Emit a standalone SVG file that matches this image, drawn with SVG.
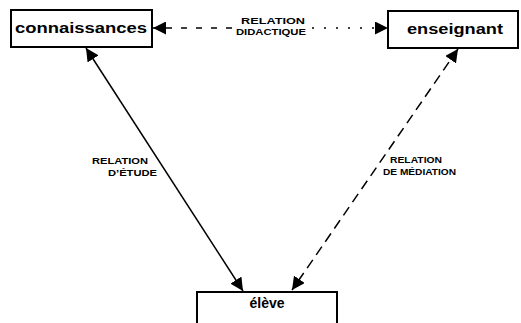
<svg xmlns="http://www.w3.org/2000/svg" width="521" height="323" viewBox="0 0 521 323">
<style>
.box{fill:#fff;stroke:#000;stroke-width:2}
.nt{font-family:"Liberation Sans",Arial,sans-serif;font-weight:bold;font-size:14px;fill:#000}
.lb{font-family:"Liberation Sans",Arial,sans-serif;font-weight:bold;font-size:9px;fill:#000}
.c{stroke:#000;stroke-width:1.5;fill:none}
</style>
<defs>
<marker id="ah" viewBox="0 0 10 10" refX="10" refY="5" markerWidth="13" markerHeight="13" markerUnits="userSpaceOnUse" orient="auto-start-reverse">
<path d="M0,0 L10,5 L0,10 z" fill="#000"/>
</marker>
</defs>
<rect width="521" height="323" fill="#fff"/>
<g id="connectors">
<line class="c" x1="232" y1="28" x2="153" y2="28" stroke-dasharray="6,9" marker-end="url(#ah)"/>
<line class="c" x1="312" y1="28" x2="388" y2="28" stroke-dasharray="2,10" marker-end="url(#ah)"/>
<line class="c" x1="86" y1="48" x2="243" y2="291" marker-start="url(#ah)" marker-end="url(#ah)"/>
<line class="c" x1="458" y1="49" x2="292" y2="290" stroke-dasharray="10,6" marker-start="url(#ah)" marker-end="url(#ah)"/>
</g>
<g id="labels">
<text class="lb" x="241" y="24" textLength="64" lengthAdjust="spacingAndGlyphs">RELATION</text>
<text class="lb" x="236" y="35" textLength="70" lengthAdjust="spacingAndGlyphs">DIDACTIQUE</text>
<text class="lb" x="92" y="164" textLength="56" lengthAdjust="spacingAndGlyphs">RELATION</text>
<text class="lb" x="108" y="176" textLength="49" lengthAdjust="spacingAndGlyphs">D’ÉTUDE</text>
<text class="lb" x="390" y="163" textLength="52" lengthAdjust="spacingAndGlyphs">RELATION</text>
<text class="lb" x="383" y="175" textLength="73" lengthAdjust="spacingAndGlyphs">DE MÉDIATION</text>
</g>
<g id="connaissances">
<rect class="box" x="11" y="10" width="141" height="37"/>
<text class="nt" x="81" y="33" text-anchor="middle" textLength="132" lengthAdjust="spacingAndGlyphs">connaissances</text>
</g>
<g id="enseignant">
<rect class="box" x="388" y="11" width="130" height="37"/>
<text class="nt" x="455" y="34" text-anchor="middle" textLength="96" lengthAdjust="spacingAndGlyphs">enseignant</text>
</g>
<g id="eleve">
<rect class="box" x="197" y="292" width="140" height="40"/>
<text class="nt" x="267" y="308" text-anchor="middle" font-size="12">élève</text>
</g>
</svg>
